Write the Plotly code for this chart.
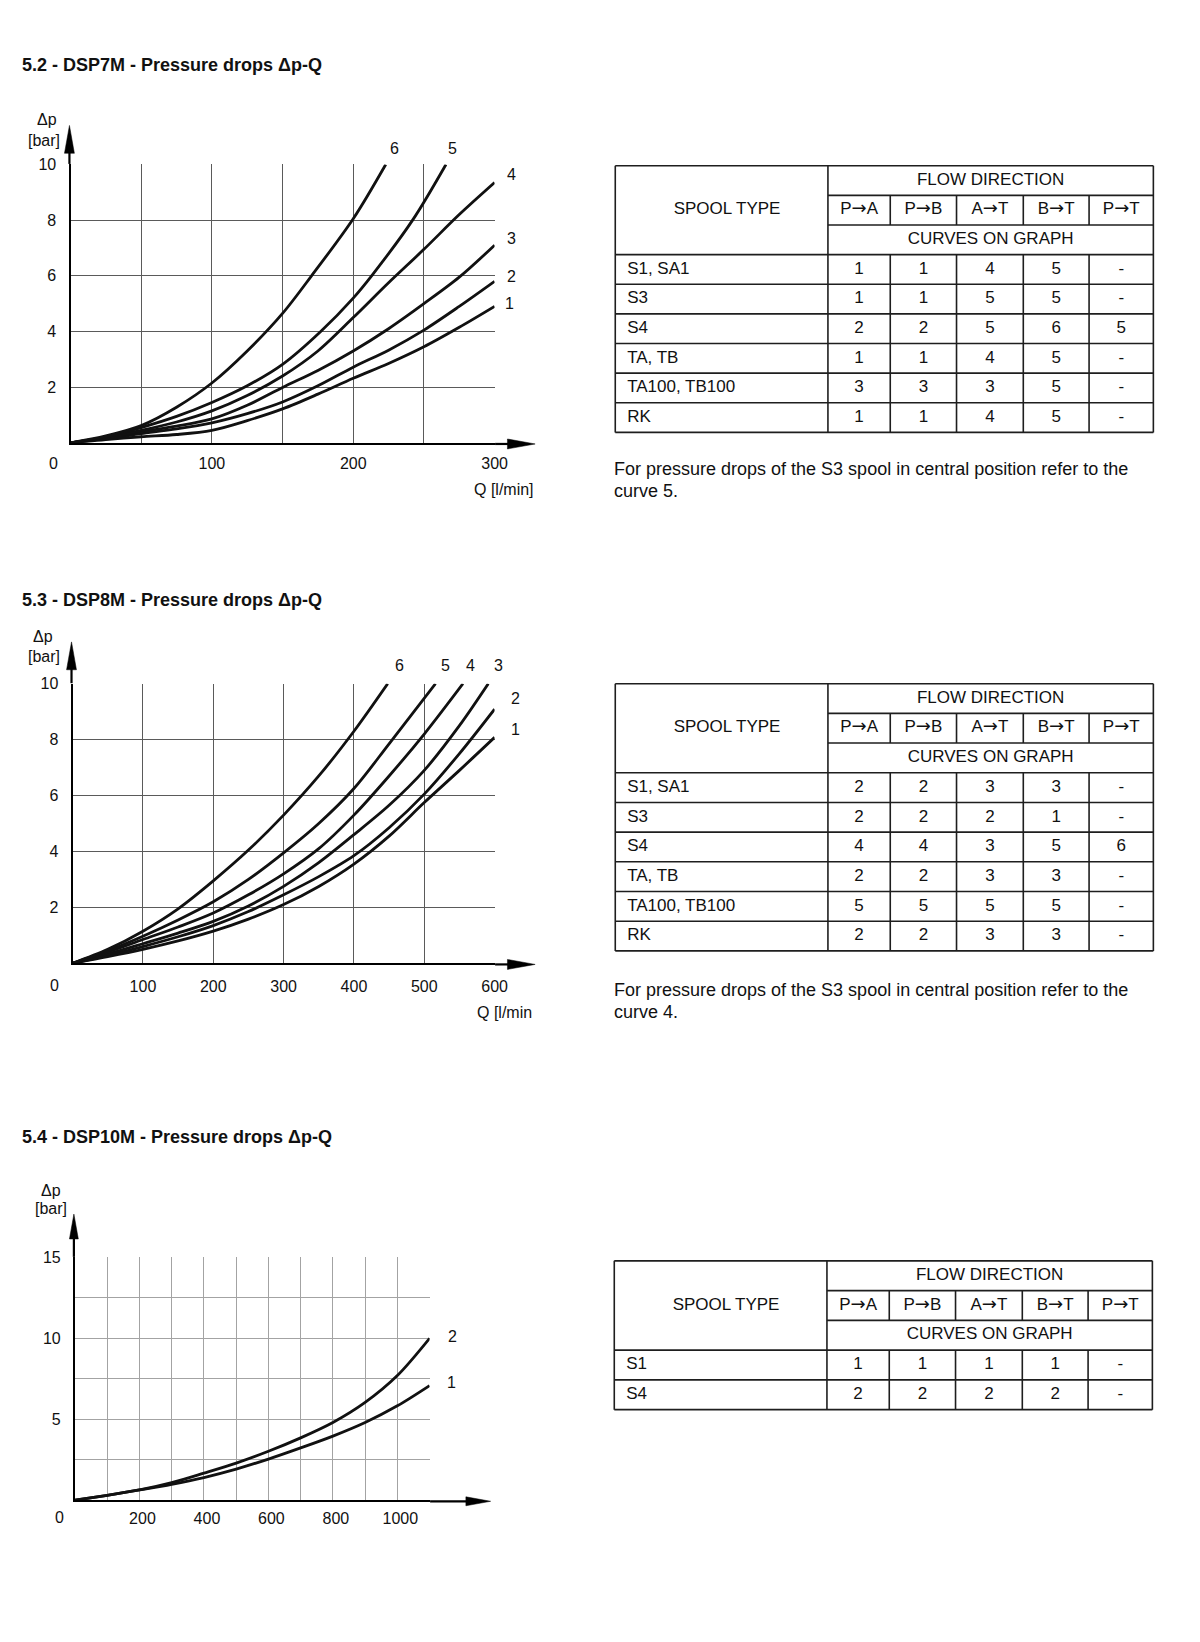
import plotly.graph_objects as go

W, H = 1200, 1642
FONT = "Liberation Sans, Arial, Helvetica, sans-serif"
INK = "#111111"

# ============================ DATA ============================
TITLE_7 = "5.2 - DSP7M - Pressure drops Δp-Q"
TITLE_8 = "5.3 - DSP8M - Pressure drops Δp-Q"
TITLE_10 = "5.4 - DSP10M - Pressure drops Δp-Q"

Y_UNIT_1 = "Δp"
Y_UNIT_2 = "[bar]"
X_LABEL_7 = "Q [l/min]"
X_LABEL_8 = "Q [l/min"

# ---- DSP7M curves (Q l/min, Δp bar) ----
D7_C1_Q = [0, 25, 50, 75, 100, 125, 150, 175, 200, 225, 250, 275, 300]
D7_C1_DP = [0, 0.12, 0.22, 0.3, 0.45, 0.8, 1.22, 1.75, 2.32, 2.85, 3.45, 4.15, 4.9]
D7_C2_Q = [0, 25, 50, 75, 100, 125, 150, 175, 200, 225, 250, 275, 300]
D7_C2_DP = [0, 0.15, 0.33, 0.5, 0.72, 1.05, 1.47, 2.05, 2.72, 3.33, 4.05, 4.9, 5.8]
D7_C3_Q = [0, 25, 50, 75, 100, 125, 150, 175, 200, 225, 250, 275, 300]
D7_C3_DP = [0, 0.17, 0.4, 0.6, 0.86, 1.35, 1.99, 2.6, 3.3, 4.1, 5.0, 5.95, 7.1]
D7_C4_Q = [0, 25, 50, 75, 100, 125, 150, 175, 200, 225, 250, 275, 300]
D7_C4_DP = [0, 0.2, 0.45, 0.75, 1.15, 1.7, 2.4, 3.3, 4.5, 5.75, 6.95, 8.2, 9.35]
D7_C5_Q = [0, 25, 50, 75, 100, 125, 150, 177, 200, 213, 242, 265.6]
D7_C5_DP = [0, 0.22, 0.55, 0.95, 1.45, 2.05, 2.82, 4.0, 5.2, 6.0, 8.0, 10]
D7_C6_Q = [0, 25, 50, 75, 100, 125, 150, 170.5, 200, 223]
D7_C6_DP = [0, 0.25, 0.62, 1.28, 2.15, 3.3, 4.65, 6.0, 8.05, 10]

# ---- DSP8M curves ----
D8_C1_Q = [0, 50, 100, 150, 200, 250, 300, 350, 400, 450, 500, 550, 600]
D8_C1_DP = [0, 0.24, 0.5, 0.8, 1.15, 1.58, 2.1, 2.75, 3.55, 4.55, 5.75, 6.9, 8.08]
D8_C2_Q = [0, 50, 100, 150, 200, 250, 300, 350, 400, 450, 500, 550, 600]
D8_C2_DP = [0, 0.28, 0.6, 0.95, 1.35, 1.85, 2.45, 3.1, 3.85, 4.85, 6.05, 7.5, 9.09]
D8_C3_Q = [0, 50, 100, 150, 200, 250, 300, 350, 400, 450, 500, 550, 591]
D8_C3_DP = [0, 0.33, 0.7, 1.08, 1.5, 2.05, 2.75, 3.6, 4.6, 5.65, 6.9, 8.5, 10]
D8_C4_Q = [0, 50, 100, 150, 200, 250, 300, 350, 400, 450, 500, 555]
D8_C4_DP = [0, 0.4, 0.85, 1.3, 1.8, 2.45, 3.2, 4.1, 5.3, 6.7, 8.2, 10]
D8_C5_Q = [0, 50, 100, 150, 200, 250, 300, 350, 400, 450, 516]
D8_C5_DP = [0, 0.45, 0.97, 1.55, 2.2, 3.0, 3.95, 5.0, 6.25, 7.85, 10]
D8_C6_Q = [0, 50, 100, 150, 200, 250, 300, 350, 400, 448]
D8_C6_DP = [0, 0.5, 1.15, 1.95, 2.95, 4.05, 5.3, 6.7, 8.3, 10]

# ---- DSP10M curves ----
D10_Q = [0, 100, 200, 300, 400, 500, 600, 700, 800, 900, 1000, 1100]
D10_C1_DP = [0, 0.3, 0.63, 0.98, 1.4, 1.92, 2.54, 3.23, 3.96, 4.8, 5.83, 7.08]
D10_C2_DP = [0, 0.3, 0.63, 1.08, 1.67, 2.29, 3.02, 3.85, 4.8, 6.04, 7.7, 10]

# ---- axis ticks ----
D7_XTICKS = [50, 100, 150, 200, 250, 300]
D7_XLABELS = ["", "100", "", "200", "", "300"]
D8_XTICKS = [100, 200, 300, 400, 500, 600]
D8_XLABELS = ["100", "200", "300", "400", "500", "600"]
D78_YTICKS = [2, 4, 6, 8, 10]
D78_YLABELS = ["2", "4", "6", "8", "10"]
D10_XTICKS = [100, 200, 300, 400, 500, 600, 700, 800, 900, 1000, 1100]
D10_XLABELS = ["", "200", "", "400", "", "600", "", "800", "", "1000", ""]
D10_YTICKS = [2.5, 5, 7.5, 10, 12.5, 15]
D10_YLABELS = ["", "5", "", "10", "", "15"]
ORIGIN_LABEL = "0"

# ---- tables ----
HEAD_SPOOL = "SPOOL TYPE"
HEAD_FLOW = "FLOW DIRECTION"
HEAD_CURVES = "CURVES ON GRAPH"
DIRECTIONS = [("P", "A"), ("P", "B"), ("A", "T"), ("B", "T"), ("P", "T")]
ARROW = "→"

T7_SPOOLS = ["S1, SA1", "S3", "S4", "TA, TB", "TA100, TB100", "RK"]
T7_VALUES = [["1", "1", "4", "5", "-"],
             ["1", "1", "5", "5", "-"],
             ["2", "2", "5", "6", "5"],
             ["1", "1", "4", "5", "-"],
             ["3", "3", "3", "5", "-"],
             ["1", "1", "4", "5", "-"]]
T8_SPOOLS = ["S1, SA1", "S3", "S4", "TA, TB", "TA100, TB100", "RK"]
T8_VALUES = [["2", "2", "3", "3", "-"],
             ["2", "2", "2", "1", "-"],
             ["4", "4", "3", "5", "6"],
             ["2", "2", "3", "3", "-"],
             ["5", "5", "5", "5", "-"],
             ["2", "2", "3", "3", "-"]]
T10_SPOOLS = ["S1", "S4"]
T10_VALUES = [["1", "1", "1", "1", "-"],
              ["2", "2", "2", "2", "-"]]

NOTE_7 = ["For pressure drops of the S3 spool in central position refer to the", "curve 5."]
NOTE_8 = ["For pressure drops of the S3 spool in central position refer to the", "curve 4."]

# ============================ LAYOUT (pixels) ============================
def PX(x):
    return x / W


def PY(y):
    return 1 - y / H


fig = go.Figure()
annotations = []
shapes = []
layout_axes = {}

TICK_FONT = dict(family=FONT, size=16, color=INK)
LABEL_FONT = dict(family=FONT, size=16, color=INK)

charts = [
    dict(n=1, box=(71.3, 500, 157.2, 437), xr=[0, 300], yr=[0, 10],
         xt=D7_XTICKS, xl=D7_XLABELS, yt=D78_YTICKS, yl=D78_YLABELS, xso=5, xsh=0,
         grid="#5a5a5a", gw=1, ytip=118, xtip=541, ah=(28, 5),
         title=TITLE_7, title_y=57.6, ylab=((48, 112), (44, 133)),
         xlab=(X_LABEL_7, 477, 484), origin=(54.5, 458),
         curves=[(D7_C1_Q, D7_C1_DP, "1", 15, 3), (D7_C2_Q, D7_C2_DP, "2", 17, 5),
                 (D7_C3_Q, D7_C3_DP, "3", 17, 7), (D7_C4_Q, D7_C4_DP, "4", 17, 8),
                 (D7_C5_Q, D7_C5_DP, "5", 7, 16), (D7_C6_Q, D7_C6_DP, "6", 9, 16)]),
    dict(n=2, box=(73.4, 500, 679, 960), xr=[0, 600], yr=[0, 10],
         xt=D8_XTICKS, xl=D8_XLABELS, yt=D78_YTICKS, yl=D78_YLABELS, xso=7, xsh=0,
         grid="#5a5a5a", gw=1, ytip=637, xtip=541, ah=(28, 5),
         title=TITLE_8, title_y=595, ylab=((43, 632), (44, 652)),
         xlab=(X_LABEL_8, 480, 1009), origin=(55.5, 982),
         curves=[(D8_C1_Q, D8_C1_DP, "1", 21, 8), (D8_C2_Q, D8_C2_DP, "2", 21, 11),
                 (D8_C3_Q, D8_C3_DP, "3", 10.5, 18), (D8_C4_Q, D8_C4_DP, "4", 8, 18),
                 (D8_C5_Q, D8_C5_DP, "5", 9.5, 18), (D8_C6_Q, D8_C6_DP, "6", 11.5, 18)]),
    dict(n=3, box=(75.8, 434.3, 1255.5, 1499.5), xr=[0, 1100], yr=[0, 15],
         xt=D10_XTICKS, xl=D10_XLABELS, yt=D10_YTICKS, yl=D10_YLABELS, xso=3, xsh=3,
         grid="#a3a3a3", gw=1.2, ytip=1212, xtip=496, ah=(25, 4.5),
         title=TITLE_10, title_y=1135, ylab=((52, 1188), (52, 1206)),
         xlab=None, origin=(59.7, 1516.5),
         curves=[(D10_Q, D10_C1_DP, "1", 22, 3), (D10_Q, D10_C2_DP, "2", 22.7, 1.8)]),
]

for c in charts:
    n = c["n"]
    xname = "x" if n == 1 else f"x{n}"
    yname = "y" if n == 1 else f"y{n}"
    xkey = "xaxis" if n == 1 else f"xaxis{n}"
    ykey = "yaxis" if n == 1 else f"yaxis{n}"
    x0, x1, y0, y1 = c["box"]
    layout_axes[xkey] = dict(
        domain=[PX(x0), PX(x1)], range=c["xr"], anchor=yname,
        tickmode="array", tickvals=c["xt"], ticktext=c["xl"],
        showgrid=True, gridcolor=c["grid"], gridwidth=c["gw"],
        showline=True, linecolor="#000000", linewidth=2.2, zeroline=False,
        ticks="outside", ticklen=0, ticklabelstandoff=c["xso"], ticklabelshift=c["xsh"],
        tickfont=TICK_FONT, fixedrange=True)
    layout_axes[ykey] = dict(
        domain=[PY(y1), PY(y0)], range=c["yr"], anchor=xname,
        tickmode="array", tickvals=c["yt"], ticktext=c["yl"],
        showgrid=True, gridcolor=c["grid"], gridwidth=c["gw"],
        showline=True, linecolor="#000000", linewidth=2.2, zeroline=False,
        ticks="outside", ticklen=0, ticklabelstandoff=9, tickfont=TICK_FONT,
        fixedrange=True)

    for q, dp, lab, dx, dy in c["curves"]:
        fig.add_trace(go.Scatter(
            x=q, y=dp, mode="lines", xaxis=xname, yaxis=yname,
            line=dict(color=INK, width=2.8, shape="spline", smoothing=0.9),
            hoverinfo="skip", showlegend=False))
        annotations.append(dict(
            x=q[-1], y=dp[-1], xref=xname, yref=yname, text=lab, showarrow=False,
            xshift=dx, yshift=dy, xanchor="center", yanchor="middle", font=LABEL_FONT))

    # axis extensions with arrow heads
    L, hw = c["ah"]
    ax_x = x0 - 1.1
    ax_y = y1 + 1.1
    shapes.append(dict(type="line", xref="paper", yref="paper",
                       x0=PX(ax_x), x1=PX(ax_x), y0=PY(y0 - 0.5), y1=PY(c["ytip"] + L - 1),
                       line=dict(color="#000000", width=2.2)))
    shapes.append(dict(type="path", xref="paper", yref="paper",
                       path=f"M {PX(ax_x - hw)},{PY(c['ytip'] + L)} L {PX(ax_x)},{PY(c['ytip'])} "
                            f"L {PX(ax_x + hw)},{PY(c['ytip'] + L)} Z",
                       fillcolor="#000000", line=dict(color="#000000", width=0.5)))
    shapes.append(dict(type="line", xref="paper", yref="paper",
                       x0=PX(x1 + 0.5), x1=PX(c["xtip"] - L + 1), y0=PY(ax_y), y1=PY(ax_y),
                       line=dict(color="#000000", width=2.2)))
    shapes.append(dict(type="path", xref="paper", yref="paper",
                       path=f"M {PX(c['xtip'] - L)},{PY(ax_y - hw)} L {PX(c['xtip'])},{PY(ax_y)} "
                            f"L {PX(c['xtip'] - L)},{PY(ax_y + hw)} Z",
                       fillcolor="#000000", line=dict(color="#000000", width=0.5)))

    # title and labels
    annotations.append(dict(x=PX(20), y=PY(c["title_y"]), xref="paper", yref="paper",
                            text=f"<b>{c['title']}</b>", showarrow=False,
                            xanchor="left", yanchor="middle",
                            font=dict(family=FONT, size=18, color=INK)))
    (ux, uy), (bx, by) = c["ylab"]
    annotations.append(dict(x=PX(ux), y=PY(uy), xref="paper", yref="paper", text=Y_UNIT_1,
                            showarrow=False, xanchor="center", yanchor="middle", font=LABEL_FONT))
    annotations.append(dict(x=PX(bx), y=PY(by), xref="paper", yref="paper", text=Y_UNIT_2,
                            showarrow=False, xanchor="center", yanchor="middle", font=LABEL_FONT))
    if c["xlab"]:
        t, lx, ly = c["xlab"]
        annotations.append(dict(x=PX(lx), y=PY(ly), xref="paper", yref="paper", text=t,
                                showarrow=False, xanchor="left", yanchor="middle", font=LABEL_FONT))
    ox, oy = c["origin"]
    annotations.append(dict(x=PX(ox), y=PY(oy), xref="paper", yref="paper", text=ORIGIN_LABEL,
                            showarrow=False, xanchor="center", yanchor="middle", font=TICK_FONT))

# ============================ TABLES ============================
COL_W = [215, 63, 67, 67.5, 66.5, 65]
TABLE_FONT = dict(family=FONT, size=17, color=INK)
NOTE_FONT = dict(family=FONT, size=18, color=INK)
tables = [
    dict(n=4, left=622, top=158.5, bottom=426.5, spools=T7_SPOOLS, values=T7_VALUES,
         note=NOTE_7, note_y=463),
    dict(n=5, left=622, top=679, bottom=947.5, spools=T8_SPOOLS, values=T8_VALUES,
         note=NOTE_8, note_y=987),
    dict(n=6, left=621, top=1259, bottom=1408.5, spools=T10_SPOOLS, values=T10_VALUES,
         note=None, note_y=None),
]

edges = [0]
for w in COL_W:
    edges.append(edges[-1] + w)
total = edges[-1]
centers = [(edges[i] + edges[i + 1]) / 2 for i in range(len(COL_W))]
ARROW_HTML = f"<span style='font-family:DejaVu Sans;font-size:18px'>{ARROW}</span>"

for t in tables:
    n = t["n"]
    xname, yname = f"x{n}", f"y{n}"
    nrows = 3 + len(t["spools"])
    rh = (t["bottom"] - t["top"]) / nrows
    pad = 4
    layout_axes[f"xaxis{n}"] = dict(domain=[PX(t["left"] - pad), PX(t["left"] + total + pad)],
                                    range=[-pad, total + pad], anchor=yname, visible=False,
                                    fixedrange=True)
    layout_axes[f"yaxis{n}"] = dict(domain=[PY(t["bottom"] + pad), PY(t["top"] - pad)],
                                    range=[nrows + pad / rh, -pad / rh], anchor=xname,
                                    visible=False, fixedrange=True)
    xs, ys = [], []

    def seg(a, b, c2, d):
        xs.extend([a, c2, None])
        ys.extend([b, d, None])

    seg(0, 0, total, 0)
    seg(total, 0, total, nrows)
    seg(total, nrows, 0, nrows)
    seg(0, nrows, 0, 0)
    seg(edges[1], 0, edges[1], nrows)
    seg(edges[1], 1, total, 1)
    seg(edges[1], 2, total, 2)
    for r in range(3, nrows):
        seg(0, r, total, r)
    for e in edges[2:-1]:
        seg(e, 1, e, 2)
        seg(e, 3, e, nrows)
    fig.add_trace(go.Scatter(x=xs, y=ys, mode="lines", xaxis=xname, yaxis=yname,
                             line=dict(color="#1e1e1e", width=1.6),
                             hoverinfo="skip", showlegend=False))

    tx, ty, tt = [], [], []
    tx.append(113); ty.append(1.5); tt.append(HEAD_SPOOL)
    tx.append((edges[1] + total) / 2); ty.append(0.5); tt.append(HEAD_FLOW)
    for i, (a, b) in enumerate(DIRECTIONS):
        tx.append(centers[i + 1]); ty.append(1.5); tt.append(f"{a}{ARROW_HTML}{b}")
    tx.append((edges[1] + total) / 2); ty.append(2.5); tt.append(HEAD_CURVES)
    for r, row in enumerate(t["values"]):
        for i, v in enumerate(row):
            tx.append(centers[i + 1]); ty.append(3.5 + r); tt.append(v)
    fig.add_trace(go.Scatter(x=tx, y=ty, text=tt, mode="text", xaxis=xname, yaxis=yname,
                             textposition="middle center", textfont=TABLE_FONT,
                             cliponaxis=False, hoverinfo="skip", showlegend=False))
    fig.add_trace(go.Scatter(x=[12] * len(t["spools"]),
                             y=[3.5 + r for r in range(len(t["spools"]))],
                             text=t["spools"], mode="text", xaxis=xname, yaxis=yname,
                             textposition="middle right", textfont=TABLE_FONT,
                             cliponaxis=False, hoverinfo="skip", showlegend=False))
    if t["note"]:
        for k, line in enumerate(t["note"]):
            annotations.append(dict(x=PX(619), y=PY(t["note_y"] + 22 * k), xref="paper",
                                    yref="paper", text=line, showarrow=False,
                                    xanchor="left", yanchor="middle", font=NOTE_FONT))

fig.update_layout(
    width=W, height=H, autosize=False,
    margin=dict(l=0, r=0, t=0, b=0, pad=0),
    paper_bgcolor="#ffffff", plot_bgcolor="#ffffff",
    font=dict(family=FONT, color=INK),
    showlegend=False,
    annotations=annotations, shapes=shapes,
    **layout_axes,
)

fig.write_html(
    "out.html",
    config={"displayModeBar": False},
    post_script="document.documentElement.style.margin='0';document.body.style.margin='0';"
                "document.body.style.padding='0';document.body.style.overflow='hidden';",
)
